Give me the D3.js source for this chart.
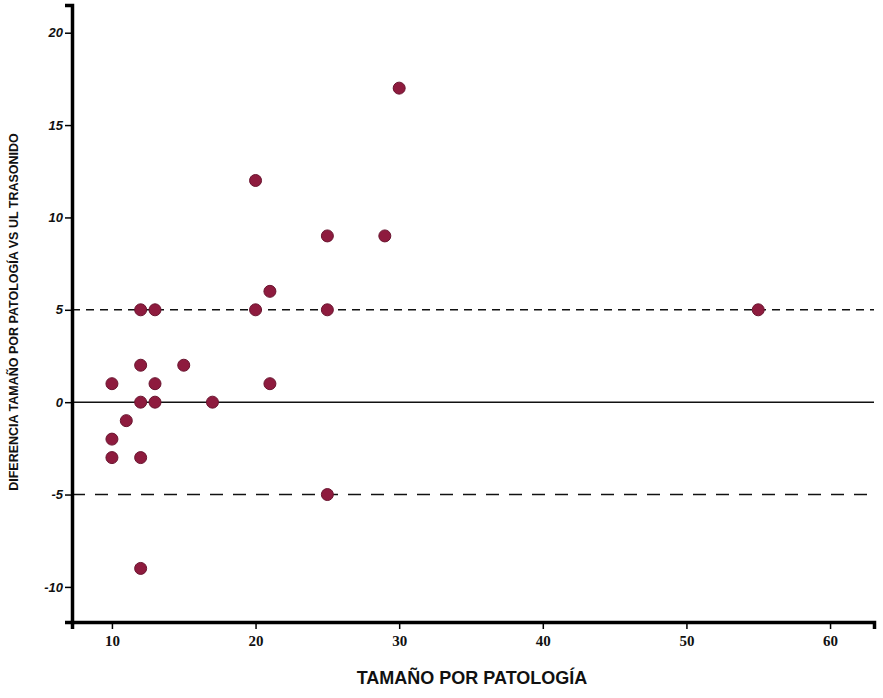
<!DOCTYPE html>
<html>
<head>
<meta charset="utf-8">
<script src="https://cdn.jsdelivr.net/npm/d3@7"></script>
<style>
  body { margin: 0; background: #fff; }
  svg { display: block; }
</style>
</head>
<body>
<div id="chart"></div>
<script>
// tamaño por patología (mm) and diferencia patología - ultrasonido
const tamano = [10, 10, 10, 11, 12, 12, 12, 12, 12, 13, 13, 13, 15, 17, 20, 20, 21, 21, 25, 25, 25, 29, 30, 55];
const diferencia = [1, -2, -3, -1, 5, 2, 0, -3, -9, 5, 1, 0, 2, 0, 12, 5, 6, 1, 9, 5, -5, 9, 17, 5];
const xTicks = [10, 20, 30, 40, 50, 60];
const yTicks = [-10, -5, 0, 5, 10, 15, 20];
const refLines = [
    { value: 5, dash: '8,6' },
    { value: 0, dash: null },
    { value: -5, dash: '13,10' }
];
const xTitle = 'TAMAÑO POR PATOLOGÍA';
const yTitle = 'DIFERENCIA TAMAÑO POR PATOLOGÍA VS UL TRASONIDO';

const width = 883;
const height = 698;
const margin = { top: 5, right: 9, bottom: 76, left: 72 };

const svg = d3.select('#chart').append('svg')
    .attr('width', width)
    .attr('height', height);

const x = d3.scaleLinear()
    .domain([7.22, 63.06])
    .range([margin.left, width - margin.right]);

const y = d3.scaleLinear()
    .domain([-11.9, 21.5])
    .range([height - margin.bottom, margin.top]);

// reference lines
svg.append('g')
    .selectAll('line')
    .data(refLines)
    .join('line')
    .attr('x1', x.range()[0])
    .attr('x2', x.range()[1])
    .attr('y1', d => y(d.value))
    .attr('y2', d => y(d.value))
    .attr('stroke', '#111')
    .attr('stroke-width', d => d.dash ? 1.6 : 1.5)
    .attr('stroke-dasharray', d => d.dash);

// points
svg.append('g')
    .selectAll('circle')
    .data(tamano.map((t, i) => [t, diferencia[i]]))
    .join('circle')
    .attr('cx', d => x(d[0]))
    .attr('cy', d => y(d[1]))
    .attr('r', 6)
    .attr('fill', '#8e1b3e')
    .attr('stroke', '#6a1530')
    .attr('stroke-width', 1);

// axes (plain hyphen for negatives, like the original)
const fmt = d => String(d);

const xAxis = svg.append('g')
    .attr('transform', `translate(0, ${height - margin.bottom})`)
    .call(d3.axisBottom(x).tickValues(xTicks).tickSize(7).tickPadding(6).tickFormat(fmt));

const yAxis = svg.append('g')
    .attr('transform', `translate(${margin.left}, 0)`)
    .call(d3.axisLeft(y).tickValues(yTicks).tickSize(7).tickPadding(2).tickFormat(fmt));

[xAxis, yAxis].forEach(a => {
    a.select('.domain')
        .attr('stroke', '#000')
        .attr('stroke-width', 3.5);
    a.selectAll('.tick line')
        .attr('stroke', '#000')
        .attr('stroke-width', 1.5);
});

xAxis.selectAll('.tick text')
    .attr('fill', '#111')
    .style('font-family', '"Liberation Serif", "DejaVu Serif", serif')
    .style('font-weight', 'bold')
    .style('font-size', '15px');

yAxis.selectAll('.tick text')
    .attr('fill', '#111')
    .style('font-family', '"Liberation Sans", Arial, sans-serif')
    .style('font-weight', 'bold')
    .style('font-style', 'italic')
    .style('font-size', '13px');

// titles
svg.append('text')
    .attr('x', 472)
    .attr('y', 684)
    .attr('text-anchor', 'middle')
    .style('font-family', '"Liberation Sans", Arial, sans-serif')
    .style('font-weight', 'bold')
    .style('font-size', '18px')
    .attr('fill', '#111')
    .text(xTitle);

svg.append('text')
    .attr('transform', 'translate(18, 312) rotate(-90)')
    .attr('text-anchor', 'middle')
    .style('font-family', '"Liberation Sans", Arial, sans-serif')
    .style('font-weight', 'bold')
    .style('font-size', '12.5px')
    .attr('fill', '#111')
    .text(yTitle);
</script>
</body>
</html>
